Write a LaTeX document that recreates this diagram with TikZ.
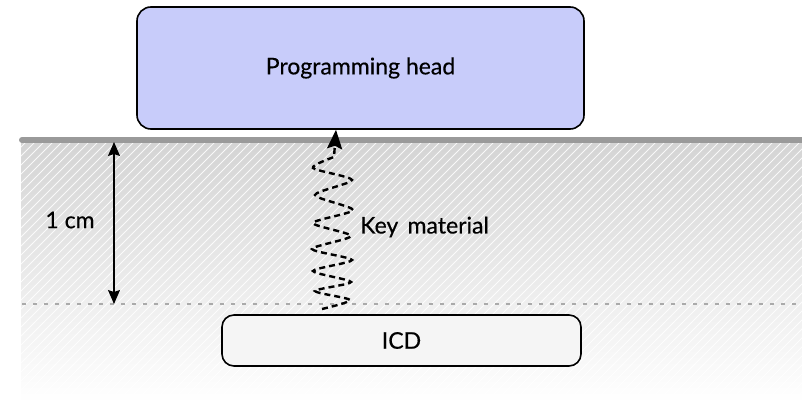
\documentclass[tikz,border=0pt]{standalone}
\usepackage{fontspec}
\setmainfont{Lato}[FakeBold=0.4]
\usetikzlibrary{arrows.meta}
\definecolor{headfill}{RGB}{200,204,250}
\definecolor{surface}{RGB}{154,154,154}
\definecolor{depthline}{RGB}{170,170,170}
\tikzset{
  box/.style={draw=black, line width=1.6pt, rounded corners=14pt, align=center,
    font=\fontsize{23}{26}\selectfont},
  label/.style={font=\fontsize{23}{26}\selectfont, inner sep=0pt},
  keyline/.style={line width=2.4pt, dash pattern=on 6pt off 4pt},
  bigtip/.tip={Stealth[length=19pt,width=15pt,inset=3pt]},
  rulertip/.tip={Stealth[length=14pt,width=12pt,inset=2pt]},
}
\begin{document}
\begin{tikzpicture}[x=1pt,y=-1pt]
\useasboundingbox (0,0) rectangle (802,403);

% tissue below the skin: soft gradient with white hatching
\shade[top color=black!17, bottom color=white] (21,140) rectangle (802,403);
\begin{scope}
  \clip (21,140) rectangle (802,403);
  \foreach \k in {-280,-271,...,800}
    \draw[white, line width=1pt, opacity=0.85] (\k,403) -- ++(263,-263);
\end{scope}

% skin surface and implant depth
\draw[surface, line width=6pt, line cap=round] (22,140) -- (805,140);
\draw[depthline, line width=2.4pt, dash pattern=on 4pt off 7pt] (22,304) -- (802,304);

% devices
\node[box, fill=headfill, minimum width=447pt, minimum height=122pt] (head) at (360.5,68) {Programming head};
\node[box, fill=black!4, minimum width=359pt, minimum height=51pt, rounded corners=12pt] (icd) at (401.5,340.5) {ICD};

% depth ruler
\coordinate (rtop) at (114,142);
\coordinate (rbot) at (114,304);
\draw[line width=1.3pt, rulertip-rulertip] (rtop) -- (rbot);
\node[label] (depth) at (70,220) {1 cm};

% key material sent through the tissue as a wavy signal
\coordinate (kstart) at (322,309);
\coordinate (kend) at ([xshift=-24.5pt]head.south);
\draw[keyline, -bigtip]
  plot[smooth, tension=0.45] coordinates {
    (kstart) (350,300) (315,291) (351,282) (313,271) (352,260) (312,249)
    (351,236) (313,223) (353,210) (315,195) (352,180) (313,168) (334,157)}
  -- (kend);
\node[label, anchor=west] (key) at (360,227) {Key\hspace{0.15em} material};
\end{tikzpicture}
\end{document}
